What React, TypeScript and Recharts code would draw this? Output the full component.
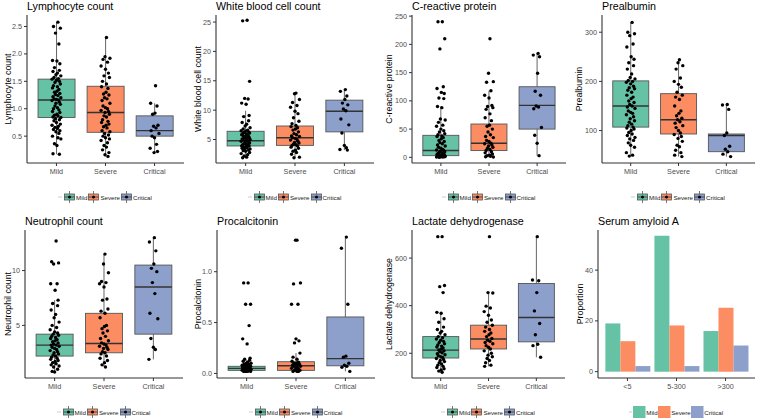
import { Bar, Cell, ComposedChart, Legend, Scatter, XAxis, YAxis } from 'recharts';

const GROUPS = ['Mild', 'Severe', 'Critical'];
const COLORS = ['#66C2A5', '#FC8D62', '#8DA0CB'];

// horizontal jitter offsets (category units), reused cyclically
const JITTER = [
  0.03, -0.06, 0.08, -0.02, 0.05, -0.08, 0.01, 0.07, -0.04, 0.06, -0.07, 0.02, -0.01, 0.09, -0.05,
  0.04, -0.09, 0.0, 0.06, -0.03, 0.08, -0.06, 0.02, -0.08, 0.05, 0.01, -0.04, 0.07, -0.02, 0.03,
  -0.07, 0.09, -0.05, 0.0, 0.04, -0.09, 0.06, -0.01, 0.08, -0.03, 0.02, -0.06, 0.05, -0.08, 0.07,
  0.01, -0.04, 0.03, -0.07, 0.09, -0.02, 0.06, -0.05, 0.0, 0.08, -0.09, 0.04, -0.03, 0.02, -0.06,
  0.07, -0.01, 0.05, -0.08, 0.03, 0.09, -0.04, 0.01, -0.07, 0.06,
];

// box stats: [lower whisker, q1, median, q3, upper whisker]
const LYM_BOX = [[0.17, 0.84, 1.16, 1.54, 2.58], [0.13, 0.57, 0.93, 1.41, 2.3], [0.2, 0.5, 0.6, 0.87, 1.1]];
const LYM_MILD = [2.58, 2.5, 2.47, 2.38, 2.18, 1.88, 1.87, 1.82, 1.75, 1.7, 1.68, 1.65, 1.62, 1.6, 1.57, 1.55, 1.54, 1.52, 1.5, 1.48, 1.45, 1.42, 1.4, 1.38, 1.35, 1.32, 1.3, 1.28, 1.26, 1.24, 1.22, 1.2, 1.18, 1.17, 1.16, 1.15, 1.12, 1.1, 1.08, 1.05, 1.02, 1.0, 0.98, 0.95, 0.93, 0.9, 0.88, 0.87, 0.85, 0.84, 0.82, 0.8, 0.78, 0.75, 0.72, 0.7, 0.68, 0.66, 0.64, 0.62, 0.6, 0.58, 0.55, 0.5, 0.47, 0.45, 0.36, 0.33, 0.18, 0.17];
const LYM_SEVERE = [2.3, 1.95, 1.92, 1.9, 1.85, 1.78, 1.72, 1.65, 1.6, 1.57, 1.5, 1.45, 1.4, 1.37, 1.3, 1.27, 1.25, 1.2, 1.18, 1.15, 1.1, 1.05, 1.02, 1.0, 0.97, 0.95, 0.93, 0.9, 0.87, 0.85, 0.8, 0.77, 0.75, 0.72, 0.7, 0.67, 0.65, 0.6, 0.58, 0.55, 0.52, 0.5, 0.47, 0.45, 0.42, 0.38, 0.33, 0.3, 0.25, 0.2, 0.16, 0.13];
const LYM_CRITICAL = [1.42, 1.1, 1.05, 0.92, 0.9, 0.7, 0.68, 0.65, 0.6, 0.55, 0.5, 0.47, 0.35, 0.28, 0.22, 0.2];
const LYM_TICKS = [0.5, 1.0, 1.5, 2.0, 2.5];

const WBC_BOX = [[1.9, 3.9, 4.8, 6.4, 9.9], [1.9, 4.0, 5.3, 7.3, 12.9], [3.2, 6.3, 9.8, 11.7, 13.5]];
const WBC_MILD = [25.3, 25.2, 14.9, 12.0, 11.9, 11.2, 11.0, 9.1, 8.9, 8.2, 7.9, 7.6, 7.3, 7.0, 6.8, 6.6, 6.5, 6.4, 6.3, 6.2, 6.1, 6.0, 5.9, 5.8, 5.7, 5.6, 5.5, 5.4, 5.3, 5.2, 5.1, 5.0, 4.9, 4.8, 4.8, 4.7, 4.6, 4.5, 4.4, 4.3, 4.2, 4.1, 4.0, 3.9, 3.9, 3.8, 3.7, 3.6, 3.5, 3.4, 3.3, 3.2, 3.1, 3.0, 2.8, 2.6, 2.4, 2.2, 2.0, 1.9];
const WBC_SEVERE = [12.9, 12.8, 11.8, 11.3, 10.8, 10.5, 9.8, 9.4, 8.7, 8.1, 7.7, 7.4, 7.2, 7.0, 6.8, 6.6, 6.3, 6.0, 5.8, 5.6, 5.5, 5.3, 5.2, 5.0, 4.9, 4.7, 4.5, 4.4, 4.2, 4.1, 4.0, 3.9, 3.7, 3.5, 3.2, 3.0, 2.8, 2.5, 2.0, 1.9];
const WBC_CRITICAL = [13.5, 13.2, 12.4, 11.8, 11.2, 10.9, 10.2, 9.9, 8.5, 7.5, 6.1, 4.0, 3.6, 3.3, 3.2];
const WBC_TICKS = [5, 10, 15, 20, 25];

const CRP_BOX = [[0, 3, 12, 39, 90], [0, 12, 25, 59, 118], [3, 50, 92, 125, 184]];
const CRP_MILD = [240, 240, 210, 192, 125, 122, 115, 113, 105, 104, 90, 88, 68, 66, 62, 57, 55, 50, 47, 45, 42, 40, 38, 37, 35, 33, 30, 28, 26, 24, 22, 20, 18, 16, 14, 13, 12, 11, 10, 9, 8, 7, 6, 5, 5, 4, 4, 3, 3, 2, 2, 2, 1, 1, 1, 0.5, 0.5, 0.3];
const CRP_SEVERE = [210, 149, 134, 133, 118, 110, 105, 92, 90, 88, 85, 77, 70, 65, 57, 55, 50, 45, 40, 37, 35, 30, 28, 25, 24, 22, 20, 18, 16, 14, 12, 10, 8, 6, 4, 3, 2, 1, 0.5];
const CRP_CRITICAL = [184, 181, 178, 149, 117, 110, 91, 89, 86, 53, 39, 25, 3];
const CRP_TICKS = [0, 50, 100, 150, 200, 250];

const PAB_BOX = [[48, 107, 150, 201, 320], [47, 93, 122, 175, 244], [47, 57, 90, 93, 153]];
const PAB_MILD = [320, 300, 297, 293, 276, 270, 250, 245, 238, 232, 225, 215, 208, 205, 202, 200, 198, 195, 190, 187, 185, 182, 178, 172, 168, 165, 160, 157, 153, 150, 148, 145, 140, 137, 135, 132, 128, 124, 120, 117, 113, 110, 107, 105, 103, 100, 96, 93, 90, 86, 83, 80, 75, 70, 66, 55, 50, 48];
const PAB_SEVERE = [244, 238, 232, 225, 207, 200, 194, 188, 178, 172, 168, 163, 150, 140, 135, 130, 125, 122, 118, 115, 110, 106, 100, 95, 92, 88, 84, 78, 70, 67, 60, 55, 50, 47];
const PAB_CRITICAL = [153, 152, 143, 95, 90, 68, 62, 57, 52, 47];
const PAB_TICKS = [100, 200, 300];

const NEU_BOX = [[0.75, 2.2, 3.2, 4.2, 7.3], [1.2, 2.5, 3.35, 6.1, 11.5], [1.9, 4.2, 8.5, 10.5, 13.0]];
const NEU_MILD = [12.7, 10.8, 10.7, 10.6, 8.8, 8.8, 8.2, 7.3, 7.0, 6.8, 6.4, 6.0, 5.7, 5.3, 5.0, 4.8, 4.6, 4.4, 4.3, 4.2, 4.1, 4.0, 3.9, 3.8, 3.7, 3.6, 3.5, 3.4, 3.3, 3.2, 3.2, 3.1, 3.0, 2.9, 2.8, 2.7, 2.6, 2.5, 2.4, 2.3, 2.2, 2.1, 2.0, 1.9, 1.8, 1.7, 1.6, 1.5, 1.4, 1.3, 1.2, 1.0, 0.8, 0.75];
const NEU_SEVERE = [11.5, 10.6, 9.8, 9.0, 8.9, 8.8, 8.5, 7.4, 7.3, 6.5, 6.3, 6.1, 5.7, 5.0, 4.9, 4.7, 4.5, 4.3, 4.0, 3.8, 3.6, 3.4, 3.3, 3.2, 3.1, 3.0, 2.9, 2.8, 2.6, 2.5, 2.4, 2.2, 2.0, 1.8, 1.6, 1.4, 1.2];
const NEU_CRITICAL = [13.0, 12.6, 11.8, 10.6, 10.2, 9.9, 8.9, 7.9, 6.1, 5.6, 3.8, 3.0, 2.8, 1.9];
const NEU_TICKS = [5, 10];

const PCT_BOX = [[0.02, 0.03, 0.05, 0.07, 0.13], [0.02, 0.03, 0.075, 0.115, 0.2], [0.02, 0.075, 0.145, 0.555, 1.33]];
const PCT_MILD = [0.89, 0.89, 0.68, 0.68, 0.47, 0.34, 0.29, 0.15, 0.14, 0.13, 0.12, 0.11, 0.1, 0.1, 0.09, 0.09, 0.08, 0.08, 0.07, 0.07, 0.07, 0.06, 0.06, 0.06, 0.05, 0.05, 0.05, 0.05, 0.05, 0.04, 0.04, 0.04, 0.04, 0.03, 0.03, 0.03, 0.03, 0.02, 0.02, 0.02, 0.02, 0.02];
const PCT_SEVERE = [1.31, 1.31, 0.89, 0.88, 0.68, 0.68, 0.34, 0.32, 0.3, 0.2, 0.16, 0.14, 0.12, 0.11, 0.1, 0.1, 0.09, 0.09, 0.08, 0.08, 0.07, 0.07, 0.06, 0.05, 0.05, 0.04, 0.04, 0.03, 0.03, 0.02, 0.02, 0.02];
const PCT_CRITICAL = [1.34, 1.23, 0.68, 0.17, 0.16, 0.1, 0.08, 0.07, 0.06, 0.02];
const PCT_TICKS = [0, 0.5, 1.0];

const LDH_BOX = [[120, 180, 213, 270, 372], [145, 218, 260, 318, 455], [183, 248, 350, 493, 690]];
const LDH_MILD = [690, 690, 485, 480, 455, 372, 368, 345, 330, 310, 300, 292, 285, 278, 270, 265, 260, 255, 250, 245, 240, 235, 230, 226, 222, 218, 214, 210, 206, 202, 198, 194, 190, 186, 182, 178, 174, 170, 165, 160, 155, 150, 145, 140, 135, 130, 125, 120];
const LDH_SEVERE = [690, 455, 453, 398, 390, 375, 360, 340, 330, 318, 310, 300, 292, 285, 278, 270, 262, 255, 250, 245, 240, 232, 225, 218, 210, 200, 192, 185, 178, 170, 160, 150, 145];
const LDH_CRITICAL = [690, 508, 505, 455, 378, 325, 278, 238, 232, 183];
const LDH_TICKS = [200, 400, 600];

const SAA_CATS = ['<5', '5-300', '>300'];
const SAA_MILD = [19, 53.5, 16];
const SAA_SEVERE = [12, 18.2, 25.2];
const SAA_CRITICAL = [2.2, 2.2, 10.3];
const SAA_TICKS = [0, 20, 40];

const W = 190;
const H = 205;
const FONT = '"Liberation Sans", Arial, sans-serif';
const tickStyle = { fontSize: 7.2, fill: '#4d4d4d' };

const BoxShape = (props: any) => {
  const { x, y, width, height, payload, fill } = props;
  const [lo, q1, med, q3, hi] = payload.stats;
  const py = (v: number) => y + (height * (hi - v)) / (hi - lo);
  const cx = x + width / 2;
  return (
    <g>
      <line x1={cx} x2={cx} y1={py(hi)} y2={py(q3)} stroke="#555" strokeWidth={0.9} />
      <line x1={cx} x2={cx} y1={py(q1)} y2={py(lo)} stroke="#555" strokeWidth={0.9} />
      <rect x={x} y={py(q3)} width={width} height={py(q1) - py(q3)} fill={fill} stroke="#555" strokeWidth={0.9} />
      <line x1={x} x2={x + width} y1={py(med)} y2={py(med)} stroke="#333" strokeWidth={1.4} />
    </g>
  );
};

const Dot = (props: any) => <circle cx={props.cx} cy={props.cy} r={1.7} fill="#000" />;

const BoxLegend = () => (
  <div style={{ display: 'flex', justifyContent: 'center', alignItems: 'center', height: 14, fontSize: 6.2, color: '#222' }}>
    <svg width={6} height={12}>
      <line x1={0} x2={4} y1={6} y2={6} stroke="#ccc" />
    </svg>
    {GROUPS.map((g, i) => (
      <span key={g} style={{ display: 'flex', alignItems: 'center', marginRight: 1 }}>
        <svg width={11} height={12}>
          <line x1={5.5} x2={5.5} y1={0} y2={12} stroke="#555" strokeWidth={0.8} />
          <rect x={0.5} y={3} width={10} height={6} fill={COLORS[i]} stroke="#555" strokeWidth={0.8} />
          <line x1={0.5} x2={10.5} y1={6} y2={6} stroke="#333" strokeWidth={0.8} />
          <circle cx={5.5} cy={6} r={1.5} fill="#000" />
        </svg>
        <span style={{ marginLeft: 1 }}>{g}</span>
      </span>
    ))}
  </div>
);

const BarLegend = () => (
  <div style={{ display: 'flex', justifyContent: 'center', alignItems: 'center', height: 14, fontSize: 6.2, color: '#222' }}>
    <svg width={4} height={12}>
      <line x1={0} x2={3} y1={6} y2={6} stroke="#ccc" />
    </svg>
    {GROUPS.map((g, i) => (
      <span key={g} style={{ display: 'flex', alignItems: 'center' }}>
        <svg width={12.5} height={12}>
          <rect x={0} y={0} width={12.5} height={12} fill={COLORS[i]} />
        </svg>
        <span style={{ marginLeft: 0.5, marginRight: 0.5 }}>{g}</span>
      </span>
    ))}
  </div>
);

interface PanelProps {
  title: string;
  yLabel: string;
  box?: number[][];
  points?: number[][];
  ticks: number[];
  domain: [number, number];
  decimals: number;
  left: number;
  top: number;
  plotLeft: number;
  plotRight: number;
  labelX: number;
}

const Title = ({ text, left }: { text: string; left: number }) => (
  <div style={{ position: 'absolute', left, top: 0, fontSize: 10.7, lineHeight: '12px', color: '#000', whiteSpace: 'nowrap' }}>
    {text}
  </div>
);

const yAxisFor = (p: PanelProps) => (
  <YAxis
    type="number"
    domain={p.domain}
    ticks={p.ticks}
    allowDataOverflow
    width={p.plotLeft}
    tick={tickStyle}
    tickSize={3}
    tickMargin={2}
    tickLine={{ stroke: '#333' }}
    axisLine={{ stroke: '#333', strokeWidth: 1.1 }}
    tickFormatter={(v: number) => v.toFixed(p.decimals)}
    label={{ value: p.yLabel, angle: -90, position: 'insideLeft', offset: p.labelX, style: { textAnchor: 'middle', fontSize: 8.8, fill: '#000' } }}
  />
);

const BoxPanel = (p: PanelProps) => {
  const boxData = GROUPS.map((name, i) => ({ name, range: [p.box![i][0], p.box![i][4]], stats: p.box![i] }));
  const pts = p.points!.flatMap((vals, g) =>
    vals.map((v, k) => ({ x: g + 1 + JITTER[(k + g * 11) % JITTER.length], y: v }))
  );
  const pad = (p.plotRight - p.plotLeft) / 32;
  return (
    <div style={{ position: 'absolute', left: p.left, top: p.top, width: W, height: H }}>
      <Title text={p.title} left={p.plotLeft} />
      <ComposedChart
        width={W}
        height={H}
        data={boxData}
        margin={{ top: 15, right: W - p.plotRight, bottom: 12, left: 0 }}
        barCategoryGap="12.5%"
      >
        <XAxis
          dataKey="name"
          type="category"
          interval={0}
          padding={{ left: pad, right: pad }}
          height={16}
          tick={tickStyle}
          tickSize={3}
          tickMargin={3}
          tickLine={{ stroke: '#333' }}
          axisLine={{ stroke: '#333', strokeWidth: 1.1 }}
        />
        <XAxis xAxisId="j" type="number" dataKey="x" domain={[0.4, 3.6]} allowDataOverflow hide />
        {yAxisFor(p)}
        <Legend content={<BoxLegend />} wrapperStyle={{ left: p.plotLeft, width: p.plotRight - p.plotLeft, bottom: 1 }} />
        <Bar dataKey="range" shape={BoxShape} isAnimationActive={false}>
          {GROUPS.map((g, i) => (
            <Cell key={g} fill={COLORS[i]} />
          ))}
        </Bar>
        <Scatter data={pts} xAxisId="j" dataKey="y" shape={Dot} isAnimationActive={false} />
      </ComposedChart>
    </div>
  );
};

const SaaPanel = (p: PanelProps) => {
  const data = SAA_CATS.map((name, i) => ({ name, Mild: SAA_MILD[i], Severe: SAA_SEVERE[i], Critical: SAA_CRITICAL[i] }));
  const pad = (p.plotRight - p.plotLeft) / 32;
  return (
    <div style={{ position: 'absolute', left: p.left, top: p.top, width: W, height: H }}>
      <Title text={p.title} left={p.plotLeft} />
      <ComposedChart
        width={W}
        height={H}
        data={data}
        margin={{ top: 15, right: W - p.plotRight, bottom: 12, left: 0 }}
        barCategoryGap="5%"
        barGap={0}
      >
        <XAxis
          dataKey="name"
          type="category"
          interval={0}
          padding={{ left: pad, right: pad }}
          height={16}
          tick={tickStyle}
          tickSize={3}
          tickMargin={3}
          tickLine={{ stroke: '#333' }}
          axisLine={{ stroke: '#333', strokeWidth: 1.1 }}
        />
        {yAxisFor(p)}
        <Legend content={<BarLegend />} wrapperStyle={{ left: p.plotLeft, width: p.plotRight - p.plotLeft, bottom: 1 }} />
        {GROUPS.map((g, i) => (
          <Bar key={g} dataKey={g} fill={COLORS[i]} isAnimationActive={false} />
        ))}
      </ComposedChart>
    </div>
  );
};

const ROW2 = 215;

export default function App() {
  return (
    <div style={{ position: 'absolute', left: 0, top: 0, width: 759, height: 419, background: '#fff', fontFamily: FONT, overflow: 'hidden' }}>
      <BoxPanel title="Lymphocyte count" yLabel="Lymphocyte count" box={LYM_BOX} points={[LYM_MILD, LYM_SEVERE, LYM_CRITICAL]}
        ticks={LYM_TICKS} domain={[0.01, 2.71]} decimals={1} left={0} top={0} plotLeft={27} plotRight={184} labelX={8} />
      <BoxPanel title="White blood cell count" yLabel="White blood cell count" box={WBC_BOX} points={[WBC_MILD, WBC_SEVERE, WBC_CRITICAL]}
        ticks={WBC_TICKS} domain={[1.0, 26.2]} decimals={0} left={190} top={0} plotLeft={26} plotRight={184} labelX={7.5} />
      <BoxPanel title="C-reactive protein" yLabel="C-reactive protein" box={CRP_BOX} points={[CRP_MILD, CRP_SEVERE, CRP_CRITICAL]}
        ticks={CRP_TICKS} domain={[-10, 252]} decimals={0} left={380} top={0} plotLeft={32} plotRight={186} labelX={9} />
      <BoxPanel title="Prealbumin" yLabel="Prealbumin" box={PAB_BOX} points={[PAB_MILD, PAB_SEVERE, PAB_CRITICAL]}
        ticks={PAB_TICKS} domain={[34, 335]} decimals={0} left={570} top={0} plotLeft={32} plotRight={185} labelX={9} />
      <BoxPanel title="Neutrophil count" yLabel="Neutrophil count" box={NEU_BOX} points={[NEU_MILD, NEU_SEVERE, NEU_CRITICAL]}
        ticks={NEU_TICKS} domain={[0.2, 13.7]} decimals={0} left={0} top={ROW2} plotLeft={25} plotRight={183} labelX={7.5} />
      <BoxPanel title="Procalcitonin" yLabel="Procalcitonin" box={PCT_BOX} points={[PCT_MILD, PCT_SEVERE, PCT_CRITICAL]}
        ticks={PCT_TICKS} domain={[-0.045, 1.41]} decimals={1} left={190} top={ROW2} plotLeft={27} plotRight={185} labelX={7.5} />
      <BoxPanel title="Lactate dehydrogenase" yLabel="Lactate dehydrogenase" box={LDH_BOX} points={[LDH_MILD, LDH_SEVERE, LDH_CRITICAL]}
        ticks={LDH_TICKS} domain={[96, 718]} decimals={0} left={380} top={ROW2} plotLeft={32} plotRight={185} labelX={9} />
      <SaaPanel title="Serum amyloid A" yLabel="Proportion" ticks={SAA_TICKS} domain={[-2.5, 55.8]} decimals={0}
        left={570} top={ROW2} plotLeft={28} plotRight={185} labelX={9.5} />
    </div>
  );
}
